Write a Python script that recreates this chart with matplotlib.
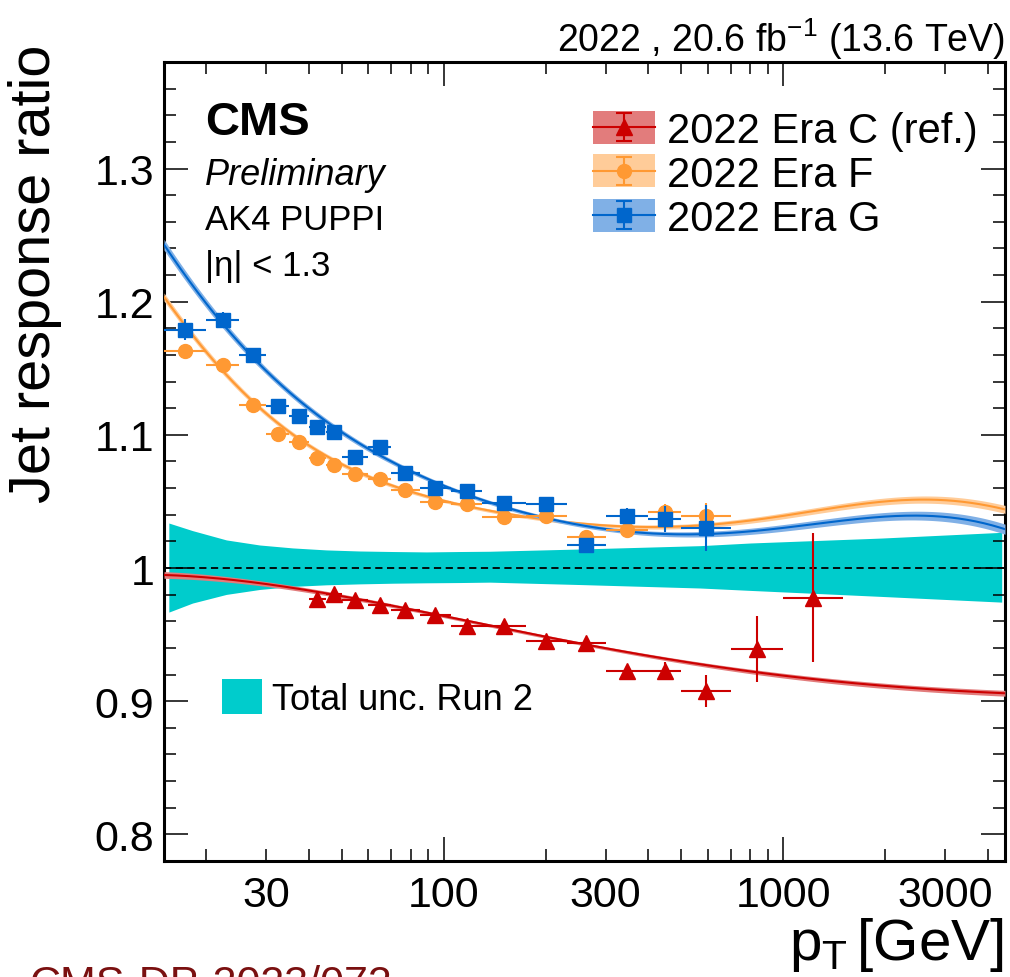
import numpy as np
import matplotlib
matplotlib.use("Agg")
import matplotlib.pyplot as plt
from matplotlib.ticker import FixedLocator, FixedFormatter, FuncFormatter
from matplotlib.patches import Rectangle

plt.rcParams['font.family'] = ['Liberation Sans', 'DejaVu Sans']
plt.rcParams['mathtext.fontset'] = 'custom'
plt.rcParams['mathtext.rm'] = 'Liberation Sans'
plt.rcParams['mathtext.it'] = 'Liberation Sans:italic'
plt.rcParams['mathtext.bf'] = 'Liberation Sans:bold'

# ---------------- data ----------------
# pT bin edges [GeV]
bin_edges = [15, 20, 25, 30, 35, 40, 45, 50, 60, 70, 85, 105, 130, 175,
             230, 300, 400, 500, 700, 1000, 1500]

# Era F / Era G: bins 15-20 ... 500-700
era_f_ratio = [1.1628, 1.1528, 1.1228, 1.1004, 1.0949, 1.0829, 1.0772, 1.0704,
               1.0667, 1.0588, 1.0493, 1.0480, 1.0380, 1.0393, 1.0231, 1.0285,
               1.0418, 1.0388]
era_f_err = [0.004, 0.003, 0.002, 0.002, 0.002, 0.002, 0.002, 0.002, 0.002,
             0.002, 0.002, 0.002, 0.002, 0.002, 0.003, 0.004, 0.006, 0.010]
era_g_ratio = [1.1790, 1.1865, 1.1600, 1.1216, 1.1141, 1.1059, 1.1022, 1.0835,
               1.0909, 1.0715, 1.0600, 1.0580, 1.0485, 1.0480, 1.0173, 1.0388,
               1.0368, 1.0300]
era_g_err = [0.008, 0.006, 0.004, 0.003, 0.003, 0.003, 0.003, 0.003, 0.003,
             0.003, 0.003, 0.003, 0.003, 0.003, 0.004, 0.006, 0.010, 0.017]
# Era C: bins 40-45 ... 1000-1500
era_c_ratio = [0.9770, 0.9806, 0.9761, 0.9719, 0.9686, 0.9644, 0.9562, 0.9564,
               0.9452, 0.9437, 0.9228, 0.9228, 0.9076, 0.9392, 0.9776]
era_c_err = [0.002, 0.002, 0.002, 0.002, 0.002, 0.002, 0.002, 0.002, 0.002,
             0.003, 0.004, 0.007, 0.012, 0.025, 0.0485]
era_c_first_bin = 5

# fitted response curves sampled along pT
c_fit_pt = [15, 22.9, 28.7, 35.9, 45, 56.5, 70.8, 88.9, 111.5, 137, 202, 252,
            443, 855, 1940, 4500]
c_fit_val = [0.9946, 0.9919, 0.9891, 0.9856, 0.9795, 0.9757, 0.9719, 0.9667,
             0.9625, 0.9580, 0.9470, 0.9430, 0.9320, 0.9220, 0.9115, 0.9060]
f_fit_pt = [15, 17.4, 22.3, 27.4, 37.6, 47.2, 64.7, 95.2, 152, 205, 288, 405,
            569, 800, 1122, 1765, 2775, 3480, 4500]
f_fit_val = [1.2040, 1.1800, 1.1503, 1.1241, 1.0966, 1.0805, 1.0667, 1.0517,
             1.0405, 1.0368, 1.0318, 1.0305, 1.0322, 1.0356, 1.0418, 1.0480,
             1.0510, 1.0500, 1.0438]
g_fit_pt = [15, 17.6, 27.4, 37.6, 51.6, 77.6, 111.5, 152, 205, 288, 405, 569,
            800, 1122, 1765, 2775, 3480, 4500]
g_fit_val = [1.2450, 1.2130, 1.1628, 1.1241, 1.0979, 1.0742, 1.0580, 1.0467,
             1.0368, 1.0293, 1.0255, 1.0258, 1.0268, 1.0332, 1.0368, 1.0386,
             1.0368, 1.0290]

# fit uncertainty half-widths
fit_band_pt = [15, 30, 100, 300, 1000, 4500]
c_band_hw = [0.0025, 0.0018, 0.0012, 0.0012, 0.0018, 0.0022]
f_band_hw = [0.0030, 0.0020, 0.0013, 0.0013, 0.0022, 0.0030]
g_band_hw = [0.0040, 0.0025, 0.0015, 0.0015, 0.0025, 0.0038]

# Run 2 total uncertainty band
unc_pt = [15.5, 18.2, 22.9, 28.7, 35.9, 45.1, 56.5, 70.8, 88.9, 111.5, 136.7,
          252, 569, 800, 1940, 4400]
unc_up = [1.0338, 1.0281, 1.0211, 1.0173, 1.0151, 1.0136, 1.0128, 1.0124,
          1.0121, 1.0124, 1.0126, 1.0143, 1.0168, 1.0188, 1.0225, 1.0268]
unc_dn = [0.9669, 0.9737, 0.9802, 0.9839, 0.9862, 0.9874, 0.9881, 0.9886,
          0.9889, 0.9891, 0.9894, 0.9876, 0.9850, 0.9832, 0.9787, 0.9744]

labels = ["2022 Era C (ref.)", "2022 Era F", "2022 Era G"]
y_ticks = [0.8, 0.9, 1.0, 1.1, 1.2, 1.3]
y_tick_labels = ["0.8", "0.9", "1", "1.1", "1.2", "1.3"]
x_labelled = [30, 100, 300, 1000, 3000]

# ---------------- style ----------------
RED, RED_BAND = "#CC0000", "#E27C7C"
ORA, ORA_BAND = "#FF9933", "#FFCC99"
BLU, BLU_BAND = "#0066CC", "#80B0E6"
CYAN = "#00CCCC"

fig = plt.figure(figsize=(10.1, 9.78), dpi=100)
ax = fig.add_axes([164 / 1010, 116 / 978, 841 / 1010, 799 / 978])
ax.set_xscale("log")
ax.set_xlim(15, 4500)
ax.set_ylim(0.78, 1.38)

edges = np.array(bin_edges, dtype=float)
centers = np.sqrt(edges[:-1] * edges[1:])
lo_w = centers - edges[:-1]
hi_w = edges[1:] - centers

# total uncertainty band and reference line
ax.fill_between(unc_pt, unc_dn, unc_up, color=CYAN, lw=0, zorder=1)
ax.axhline(1.0, color="black", lw=1.3, ls=(0, (4, 2.5)), zorder=2)


def smooth_curve(pts, vals, deg):
    lx = np.log10(pts)
    coef = np.polyfit(lx, vals, deg)
    grid = np.linspace(np.log10(15), np.log10(4500), 400)
    return 10 ** grid, np.polyval(coef, grid)


series = [
    (c_fit_pt, c_fit_val, c_band_hw, RED, RED_BAND, 5),
    (f_fit_pt, f_fit_val, f_band_hw, ORA, ORA_BAND, 7),
    (g_fit_pt, g_fit_val, g_band_hw, BLU, BLU_BAND, 7),
]
for i, (pts, vals, hw, col, bcol, deg) in enumerate(series):
    gx, gy = smooth_curve(pts, vals, deg)
    ghw = np.interp(np.log10(gx), np.log10(fit_band_pt), hw)
    ax.fill_between(gx, gy - ghw, gy + ghw, color=bcol, lw=0, zorder=3 + i)
    ax.plot(gx, gy, color=col, lw=1.5, zorder=3.5 + i)

# data points
n_c = len(era_c_ratio)
sl = slice(era_c_first_bin, era_c_first_bin + n_c)
ax.errorbar(centers[sl], era_c_ratio, yerr=era_c_err,
            xerr=[lo_w[sl], hi_w[sl]], fmt="^", color=RED, ms=11,
            elinewidth=1.5, capsize=0, zorder=7)
n_fg = len(era_f_ratio)
ax.errorbar(centers[:n_fg], era_f_ratio, yerr=era_f_err,
            xerr=[lo_w[:n_fg], hi_w[:n_fg]], fmt="o", color=ORA, ms=10,
            elinewidth=1.5, capsize=0, zorder=8)
ax.errorbar(centers[:n_fg], era_g_ratio, yerr=era_g_err,
            xerr=[lo_w[:n_fg], hi_w[:n_fg]], fmt="s", color=BLU, ms=10,
            elinewidth=1.5, capsize=0, zorder=9)

# ---------------- axes ----------------
ax.xaxis.set_major_locator(FixedLocator([100, 1000]))
ax.xaxis.set_major_formatter(FixedFormatter(["100", "1000"]))
minor_x = [20, 30, 40, 50, 60, 70, 80, 90, 200, 300, 400, 500, 600, 700, 800,
           900, 2000, 3000, 4000]
ax.xaxis.set_minor_locator(FixedLocator(minor_x))
ax.xaxis.set_minor_formatter(
    FuncFormatter(lambda v, p: f"{v:.0f}" if round(v) in x_labelled else ""))
ax.yaxis.set_major_locator(FixedLocator(y_ticks))
ax.yaxis.set_major_formatter(FixedFormatter(y_tick_labels))
ax.yaxis.set_minor_locator(FixedLocator(np.arange(0.78, 1.381, 0.02)))

ax.tick_params(which="both", direction="in", top=True, right=True,
               width=1.1, labelsize=31)
ax.tick_params(which="major", length=17)
ax.tick_params(which="minor", length=8.5)
ax.tick_params(axis="x", which="both", pad=10)
ax.tick_params(axis="y", which="both", pad=7)
for s in ax.spines.values():
    s.set_linewidth(2.2)

ax.set_ylabel("Jet response ratio", fontsize=41.5, loc="top")
ax.yaxis.set_label_coords(-0.121, 1.0225)
ax.set_xlabel("p$_{\\mathregular{T}}\\,$[GeV]", fontsize=42, loc="right")
ax.xaxis.set_label_coords(0.998, -0.068)

# ---------------- annotations ----------------
ax.text(1.0, 1.0138, "2022 , 20.6 fb$^{-1}$ (13.6 TeV)", transform=ax.transAxes,
        ha="right", va="baseline", fontsize=27)
ax.text(0.0488, 0.910, "CMS", transform=ax.transAxes, fontsize=34,
        fontweight="bold", va="baseline")
ax.text(0.0488, 0.847, "Preliminary", transform=ax.transAxes, fontsize=26,
        style="italic", va="baseline")
ax.text(0.0488, 0.791, "AK4 PUPPI", transform=ax.transAxes, fontsize=25,
        va="baseline")
ax.text(0.0488, 0.733, "|η| < 1.3", transform=ax.transAxes, fontsize=25,
        va="baseline")

# legend for the three eras
leg_x0, leg_w, leg_h = 0.510, 0.074, 0.0413
row_y = [0.9186, 0.8636, 0.8085]
row_base = [0.8999, 0.8448, 0.7897]
leg_styles = [(RED, RED_BAND, "^", 11), (ORA, ORA_BAND, "o", 10),
              (BLU, BLU_BAND, "s", 10)]
for (col, bcol, mk, ms), yc, yb, lab in zip(leg_styles, row_y, row_base, labels):
    ax.add_patch(Rectangle((leg_x0, yc - leg_h / 2), leg_w, leg_h,
                           transform=ax.transAxes, facecolor=bcol, lw=0,
                           clip_on=False, zorder=10))
    xc = leg_x0 + leg_w / 2
    ax.plot([leg_x0, leg_x0 + leg_w], [yc, yc], color=col, lw=1.5,
            transform=ax.transAxes, clip_on=False, zorder=11)
    ax.errorbar([xc], [yc], yerr=[[0.017], [0.017]], fmt=mk, color=col, ms=ms,
                elinewidth=1.5, capsize=6, capthick=1.5,
                transform=ax.transAxes, clip_on=False, zorder=12)
    ax.text(0.598, yb, lab, transform=ax.transAxes, fontsize=30,
            va="baseline")

# legend for Run 2 uncertainty
ax.add_patch(Rectangle((0.069, 0.184), 0.0476, 0.0438, transform=ax.transAxes,
                       facecolor=CYAN, lw=0, zorder=10))
ax.text(0.1284, 0.190, "Total unc. Run 2", transform=ax.transAxes, fontsize=26,
        va="baseline")

fig.text(30 / 1010, 13 / 978, "CMS-DP-2023/072", color="#7A1010",
         fontsize=31, va="top", ha="left")

fig.savefig("out.png", dpi=100)
